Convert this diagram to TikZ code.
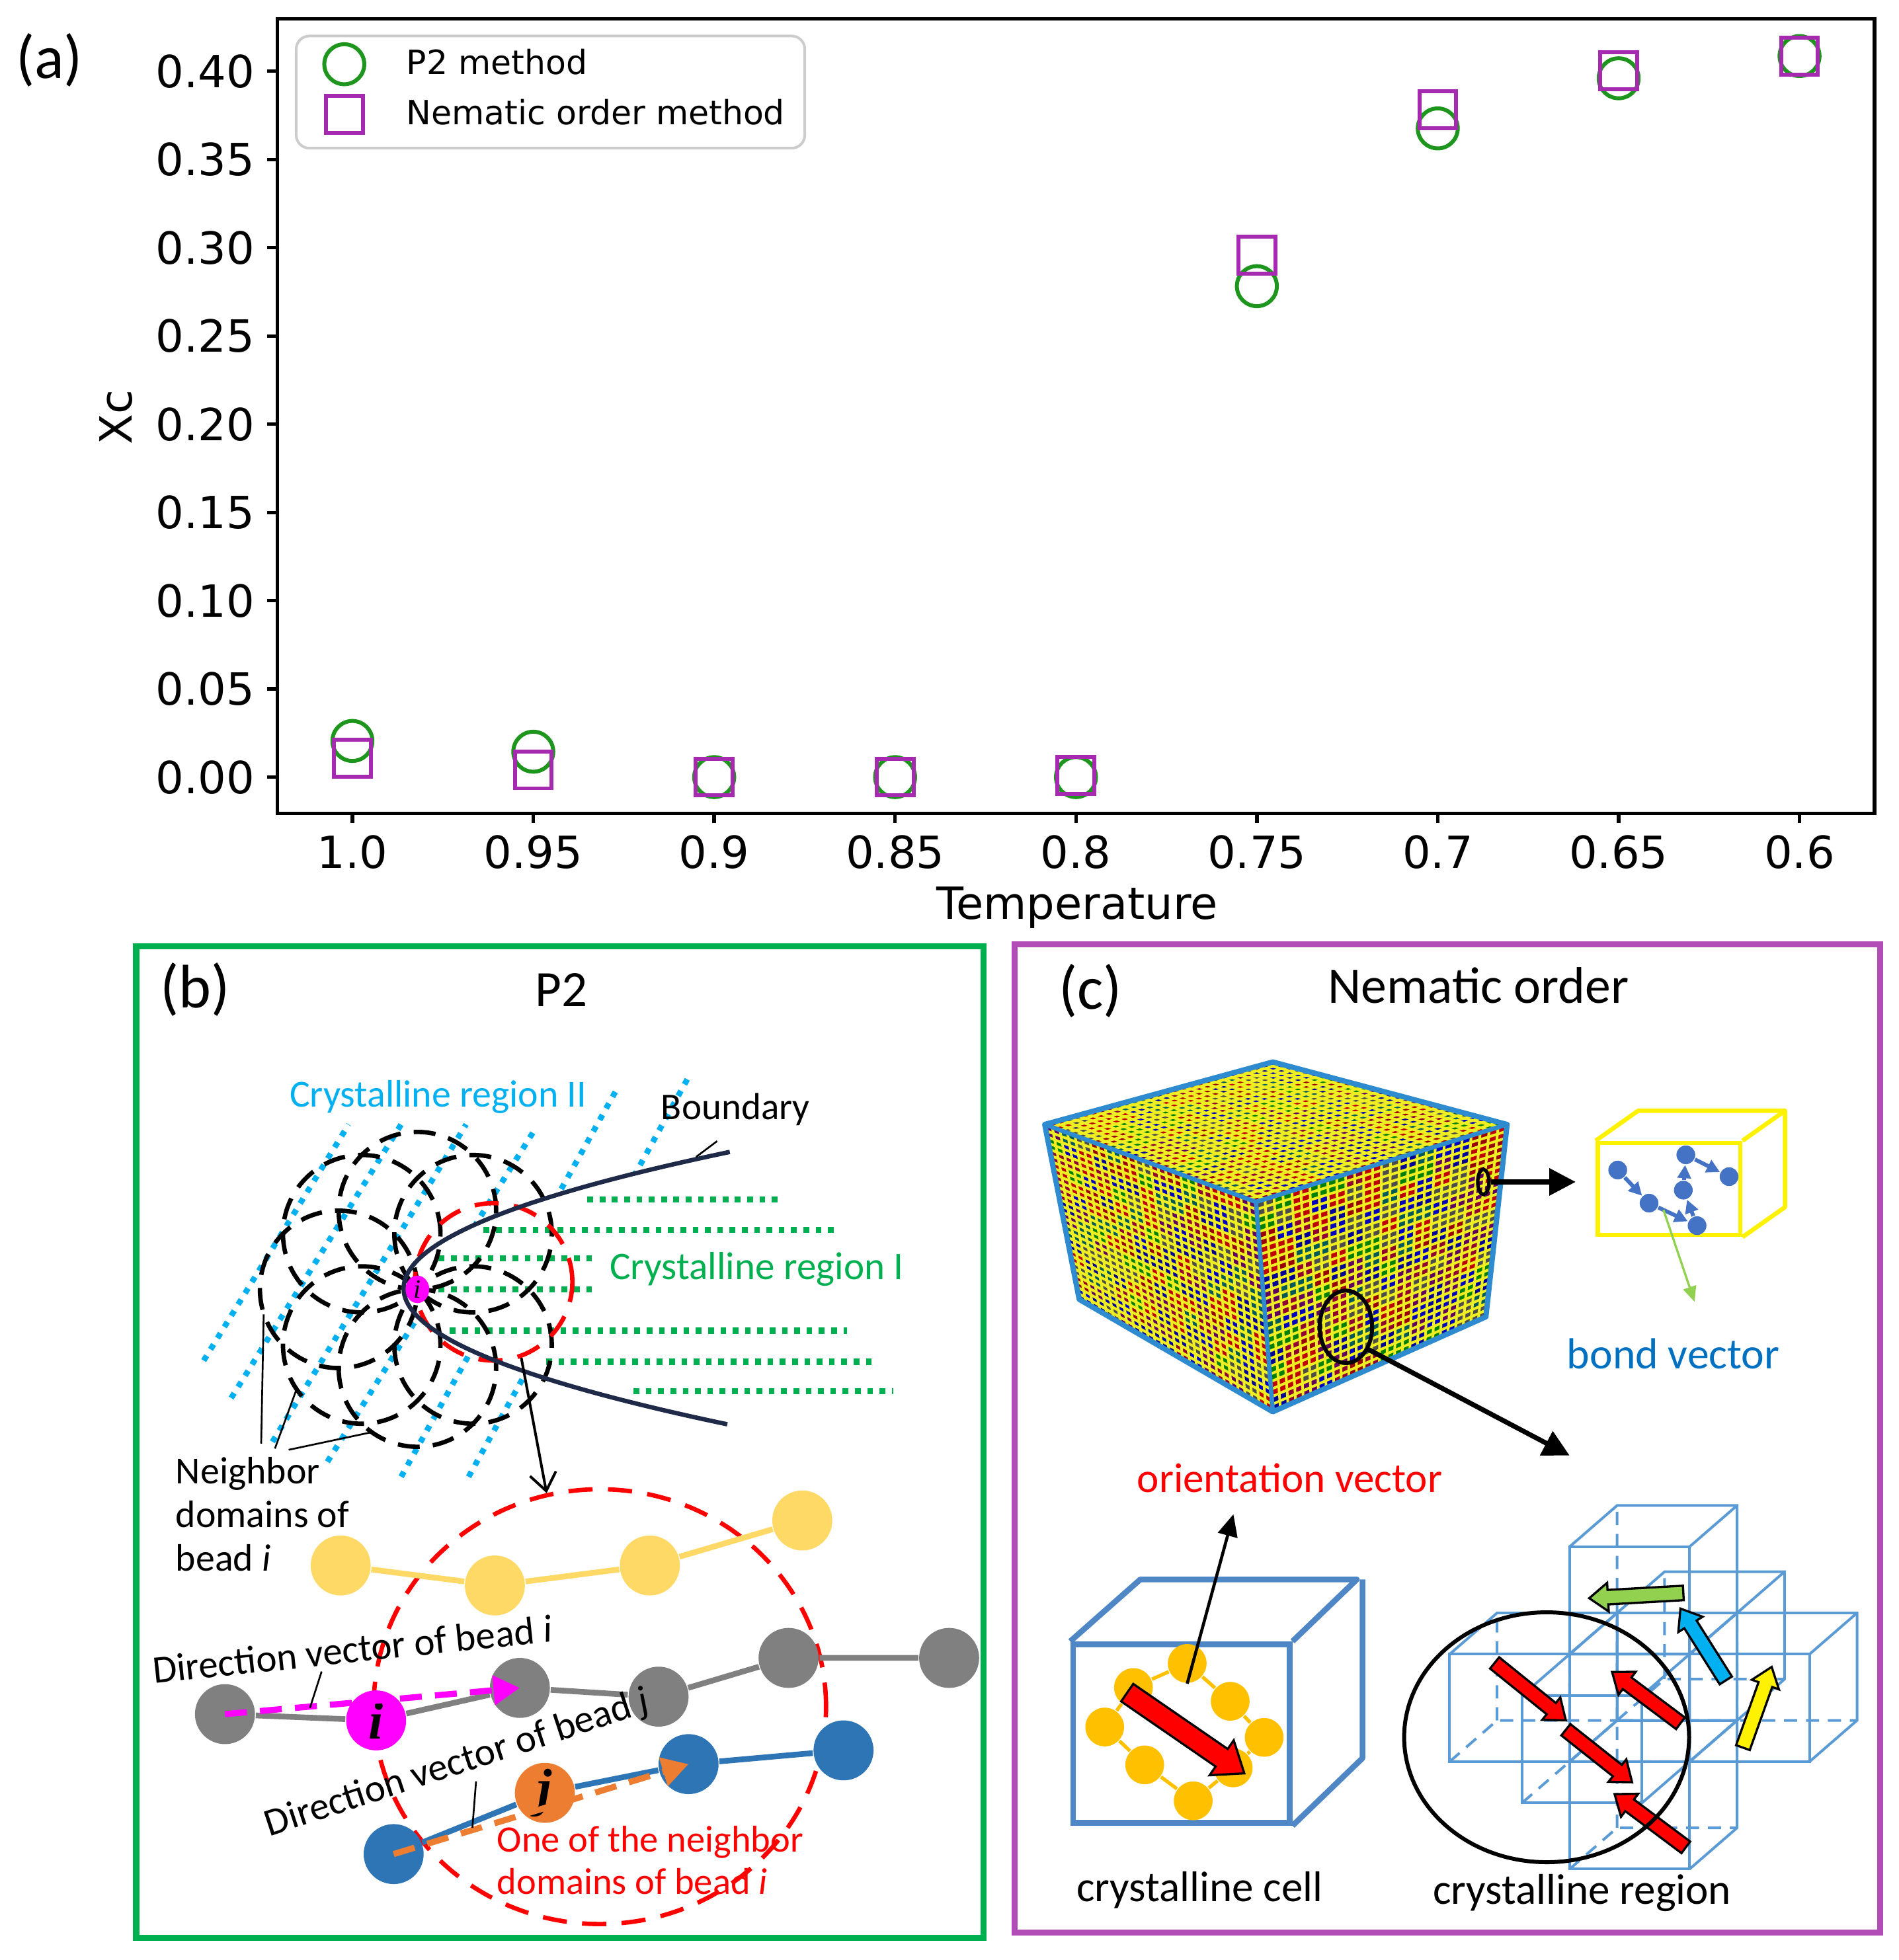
\documentclass[tikz,border=0pt]{standalone}
\usepackage{fontspec}
\setmainfont{Carlito}
\newfontfamily\plotfont{DejaVu Sans}
\newfontfamily\beadfont{Liberation Serif}
\usetikzlibrary{positioning,arrows.meta,calc,shapes.geometric}
\definecolor{ptwo}{HTML}{1E961E}
\definecolor{nem}{HTML}{A62AB0}
\definecolor{boxgreen}{HTML}{00B050}
\definecolor{boxpurple}{HTML}{B24CB6}
\definecolor{cyanreg}{HTML}{00B0F0}
\definecolor{greenreg}{HTML}{00B050}
\definecolor{navy}{HTML}{1F2A48}
\definecolor{beadyellow}{HTML}{FFD966}
\definecolor{beadgray}{HTML}{808080}
\definecolor{beadblue}{HTML}{2E75B6}
\definecolor{beadorange}{HTML}{ED7D31}
\definecolor{beadmag}{HTML}{FF00FF}
\definecolor{cellblue}{HTML}{4F86C6}
\definecolor{regblue}{HTML}{5B9BD5}
\definecolor{goldbead}{HTML}{FFC000}
\definecolor{bondblue}{HTML}{4472C4}
\definecolor{textblue}{HTML}{0070C0}
\definecolor{lightgreen}{HTML}{92D050}
\definecolor{meshyellow}{HTML}{EEEE22}
\definecolor{meshedge}{HTML}{2E8BD0}

\tikzset{
  ptwomark/.style={circle, draw=ptwo, line width=0.9pt, minimum size=0.32cm, inner sep=0},
  nemmark/.style={rectangle, draw=nem, line width=0.9pt, minimum size=0.295cm, inner sep=0},
  ticklbl/.style={font=\plotfont\fontsize{10.1}{12}\selectfont},
  bead/.style={circle, minimum size=0.48cm, inner sep=0},
  nbrdash/.style={black, line width=1pt, dash pattern=on 5pt off 3pt},
  reddash/.style={red, line width=1pt, dash pattern=on 5.5pt off 3.5pt},
  cyandots/.style={cyanreg, line width=1.3pt, dash pattern=on 1.3pt off 1.7pt},
  greendots/.style={greenreg, line width=1.4pt, dash pattern=on 1.3pt off 1.5pt},
  dirvec/.style={line width=1.4pt, dash pattern=on 5pt off 3pt, -{Triangle[length=6pt,width=6.5pt]}},
  leader/.style={black, line width=0.4pt},
  meshline/.style={meshyellow, line width=0.6pt},
  regedge/.style={regblue, line width=0.6pt},
  regdash/.style={regedge, dash pattern=on 3pt off 2pt},
  bigarrow/.style={black, line width=1.1pt, -{Triangle[length=6pt,width=6pt]}},
  chainarrow/.style={bondblue, line width=0.9pt, -{Triangle[length=3pt,width=3pt]}}
}

\pgfmathdeclarerandomlist{cubecols}{{red!75!black}{blue!75!black}{green!50!black}{violet!75!black}{teal!70!black}{black!70}{purple!75!black}{blue!60!black}{red!60!black}}

% fat outlined arrow: start x, start y, end x, end y, colour
\newcommand{\fatarrow}[5]{%
  \pgfmathsetmacro\fatang{atan2((#4)-(#2),(#3)-(#1))}%
  \pgfmathsetmacro\fatlen{veclen((#3)-(#1),(#4)-(#2))}%
  \pgfmathsetmacro\fatneck{\fatlen-\fathead}%
  \filldraw[fill=#5, draw=black, line width=0.5pt, shift={(#1,#2)}, rotate=\fatang]
    (0,\fatw) -- (\fatneck,\fatw) -- (\fatneck,\fatwide) -- (\fatlen,0)
    -- (\fatneck,-\fatwide) -- (\fatneck,-\fatw) -- (0,-\fatw) -- cycle;
}

% coloured mesh on one face of the big box
\newcommand{\meshface}[4]{%
  \foreach \mi in {0,...,13}{
    \foreach \mj in {0,...,13}{
      \pgfmathsetmacro\ua{\mi/14}\pgfmathsetmacro\ub{(\mi+1)/14}
      \pgfmathsetmacro\va{\mj/14}\pgfmathsetmacro\vb{(\mj+1)/14}
      \pgfmathrandomitem{\cellcol}{cubecols}
      \fill[\cellcol] ($($(#1)!\ua!(#2)$)!\va!($(#3)!\ua!(#4)$)$)
        -- ($($(#1)!\ub!(#2)$)!\va!($(#3)!\ub!(#4)$)$)
        -- ($($(#1)!\ub!(#2)$)!\vb!($(#3)!\ub!(#4)$)$)
        -- ($($(#1)!\ua!(#2)$)!\vb!($(#3)!\ua!(#4)$)$) -- cycle;
    }
  }
  \foreach \mk in {0,...,28}{
    \pgfmathsetmacro\mt{\mk/28}
    \draw[meshline] ($(#1)!\mt!(#2)$) -- ($(#3)!\mt!(#4)$);
    \draw[meshline] ($(#1)!\mt!(#3)$) -- ($(#2)!\mt!(#4)$);
  }
}

% one wire cube of the crystalline region: right, up, back
\newcommand{\regcube}[3]{%
  \begin{scope}[shift={({12.56+(#1)*0.96+(#3)*0.38},{-14.10+(#2)*0.86+(#3)*0.33})}]
    \draw[regedge] (0,0) rectangle (0.96,0.86);
    \draw[regedge] (0,0.86) -- ++(0.38,0.33) -- ++(0.96,0) -- ++(0,-0.86) -- (0.96,0);
    \draw[regedge] (0.96,0.86) -- ++(0.38,0.33);
    \draw[regdash] (0,0) -- ++(0.38,0.33) -- ++(0.96,0) (0.38,0.33) -- ++(0,0.86);
  \end{scope}}

\begin{document}
\begin{tikzpicture}
    \useasboundingbox (0,0) rectangle (15.196,-15.688);
    \pgfmathsetseed{42}

    % ---------------- (a) plot ----------------
    \node[font=\fontsize{14}{14}\selectfont] (tagA) at (0.395,-0.48) {(a)};
    \begin{scope}[shift={(2.82,-6.22)}, x=1.4475cm, y=14.125cm]
        % Axes frame
        \draw[line width=0.8pt] (-0.4145,-0.0205) rectangle (8.4145,0.4297);
        \foreach \v/\lbl in {0/0.00, 0.05/0.05, 0.1/0.10, 0.15/0.15, 0.2/0.20, 0.25/0.25, 0.3/0.30, 0.35/0.35, 0.4/0.40} {
            \draw[line width=0.8pt] (-0.4145,\v) -- ++(-0.08cm,0) node[left, inner sep=0.09cm, ticklbl] {\lbl};
        }
        \foreach \k/\lbl in {0/1.0, 1/0.95, 2/0.9, 3/0.85, 4/0.8, 5/0.75, 6/0.7, 7/0.65, 8/0.6} {
            \draw[line width=0.8pt] (\k,-0.0205) -- ++(0,-0.08cm) node[below, inner sep=0.085cm, ticklbl] {\lbl};
        }
        % P2 method
        \foreach \k/\v [count=\n] in {0/0.0205, 1/0.0144, 2/0, 3/0, 4/0, 5/0.2782, 6/0.3676, 7/0.396, 8/0.4086} {
            \node[ptwomark] (p\n) at (\k,\v) {};
        }
        % Nematic order method
        \foreach \k/\v [count=\n] in {0/0.0106, 1/0.0041, 2/0, 3/0, 4/0.001, 5/0.2958, 6/0.3783, 7/0.4004, 8/0.4086} {
            \node[nemmark] (q\n) at (\k,\v) {};
        }
    \end{scope}
    \node[ticklbl] (xlbl) at (8.62,-7.266) {Temperature};
    \node[ticklbl, rotate=90] (ylbl) at (0.93,-3.34) {Xc};

    % Legend
    \draw[rounded corners=3pt, draw=black!20, fill=white, line width=0.6pt] (2.37,-0.288) rectangle (6.44,-1.186);
    \node[ptwomark] (legp) at (2.755,-0.514) {};
    \node[nemmark] (legq) at (2.755,-0.914) {};
    \node[right, inner sep=0, font=\plotfont\fontsize{7.6}{9}\selectfont] (legpt) at (3.246,-0.496) {P2 method};
    \node[right, inner sep=0, font=\plotfont\fontsize{7.6}{9}\selectfont] (legqt) at (3.246,-0.897) {Nematic order method};

    % ---------------- (b) P2 ----------------
    \draw[boxgreen, line width=1.4pt] (1.09,-7.575) rectangle (7.87,-15.51);
    \node[font=\fontsize{14}{14}\selectfont] (tagB) at (1.56,-7.92) {(b)};
    \node[font=\fontsize{11.6}{12}\selectfont] (ttlB) at (4.49,-7.925) {P2};

    % Crystalline region II lines, kept out of region I
    \begin{scope}[even odd rule]
        \clip (1.1,-7.6) rectangle (7.85,-15.5)
            (5.84,-9.22) .. controls (2.367,-9.947) and (2.36,-10.673) .. (5.82,-11.40)
            -- (7.85,-11.40) -- (7.85,-9.22) -- cycle;
        \foreach \xa/\ya/\xb/\yb in {1.63/-10.89/2.79/-9.00, 1.85/-11.19/3.21/-9.00, 2.18/-11.54/3.73/-9.00,
                                     2.62/-11.70/4.28/-9.04, 3.21/-11.82/4.94/-8.71, 3.75/-11.82/5.51/-8.62} {
            \draw[cyandots] (\xa,\ya) -- (\xb,\yb);
        }
    \end{scope}

    % Crystalline region I lines
    \foreach \xa/\xb/\y in {4.70/6.23/-9.60, 3.87/6.67/-9.845, 3.51/4.74/-10.07, 3.51/4.74/-10.32,
                            3.60/6.78/-10.65, 4.37/7.01/-10.90, 5.07/7.15/-11.135} {
        \draw[greendots] (\xa,\y) -- (\xb,\y);
    }

    % Neighbor domains round bead i
    \coordinate (ic) at (3.34,-10.32);
    \foreach \t in {45,90,...,315} {
        \draw[nbrdash] ($(ic)+(\t:0.63)$) circle[radius=0.63];
    }
    \node[circle, reddash, draw, minimum size=1.26cm, inner sep=0] (rc) at (3.95,-10.26) {};

    % Boundary
    \draw[navy, line width=1pt] (5.84,-9.22) .. controls (2.367,-9.947) and (2.36,-10.673) .. (5.82,-11.40);
    \node[ellipse, fill=beadmag, minimum width=0.19cm, minimum height=0.22cm, inner sep=0, font=\beadfont\itshape\fontsize{6}{6}\selectfont] (ib) at (ic) {i};

    \node[text=cyanreg, font=\fontsize{8.7}{10}\selectfont] (regII) at (3.505,-8.78) {Crystalline region II};
    \node[text=greenreg, font=\fontsize{8.9}{10}\selectfont] (regI) at (6.055,-10.16) {Crystalline region I};
    \node[font=\fontsize{8.6}{10}\selectfont] (bnd) at (5.885,-8.88) {Boundary};
    \coordinate (bndpt) at (5.57,-9.26);
    \draw[leader] (bnd.240) -- (bndpt);

    \node[anchor=west, align=left, inner sep=0, font=\fontsize{8.7}{10}\selectfont] (nbr) at (1.40,-12.12) {Neighbor\\domains of\\bead \textit{i}};
    \coordinate (nb1) at (2.11,-10.52);
    \coordinate (nb2) at (2.38,-11.10);
    \coordinate (nb3) at (2.99,-11.46);
    \draw[leader] ($(nbr.north west)+(0.69,0.1)$) -- (nb1);
    \draw[leader] ($(nbr.north west)+(0.80,0.06)$) -- (nb2);
    \draw[leader] ($(nbr.north west)+(0.91,0.05)$) -- (nb3);

    % Zoomed neighbor domain
    \node[ellipse, reddash, draw, minimum width=3.62cm, minimum height=3.48cm, inner sep=0] (bigc) at (4.80,-13.66) {};
    \draw[leader, line width=0.6pt, -{Straight Barb[length=4pt,width=6pt]}] (rc.290) -- (bigc.104);

    % Chains
    \foreach \n/\x/\y in {y1/2.726/-12.53, y2/3.96/-12.69, y3/5.20/-12.53, y4/6.42/-12.17} {
        \node[bead, fill=beadyellow] (\n) at (\x,\y) {};
    }
    \draw[beadyellow, line width=1.3pt] (y1) -- (y2) -- (y3) -- (y4);

    \foreach \n/\x/\y in {g1/1.80/-13.72, g3/4.16/-13.51, g4/5.27/-13.58, g5/6.31/-13.27, g6/7.595/-13.27} {
        \node[bead, fill=beadgray] (\n) at (\x,\y) {};
    }
    \node[bead, fill=beadmag, font=\beadfont\bfseries\itshape\fontsize{12}{12}\selectfont] (bi) at (3.01,-13.77) {i};
    \draw[beadgray, line width=1.3pt] (g1) -- (bi) -- (g3) -- (g4) -- (g5) -- (g6);

    \foreach \n/\x/\y in {b1/3.15/-14.84, b3/5.51/-14.12, b4/6.75/-14.01} {
        \node[bead, fill=beadblue] (\n) at (\x,\y) {};
    }
    \node[bead, fill=beadorange, font=\beadfont\bfseries\itshape\fontsize{12}{12}\selectfont] (bj) at (4.36,-14.35) {j};
    \draw[beadblue, line width=1.3pt] (b1) -- (bj) -- (b3) -- (b4);

    % Direction vectors
    \draw[dirvec, beadmag] (g1.center) -- (g3.center);
    \draw[dirvec, beadorange] (b1.center) -- (b3.center);

    \node[rotate=6, inner sep=1pt, font=\fontsize{8.9}{10}\selectfont] (dvi) at (2.82,-13.20) {Direction vector of bead \textit{i}};
    \coordinate (dvifoot) at (2.48,-13.67);
    \draw[leader] ($(dvi.south west)!0.42!(dvi.south east)$) -- (dvifoot);
    \node[rotate=18.2, inner sep=1pt, font=\fontsize{8.9}{10}\selectfont] (dvj) at (3.66,-14.12) {Direction vector of bead \textit{j}};
    \coordinate (dvjfoot) at (3.78,-14.63);
    \draw[leader] ($(dvj.south west)!0.53!(dvj.south east)$) -- (dvjfoot);

    \node[anchor=west, align=left, inner sep=0, text=red, font=\fontsize{8.5}{9.7}\selectfont] (onedom) at (3.97,-14.89) {One of the neighbor\\domains of bead \textit{i}};

    % ---------------- (c) Nematic order ----------------
    \draw[boxpurple, line width=1.4pt] (8.12,-7.56) rectangle (15.045,-15.47);
    \node[font=\fontsize{14}{14}\selectfont] (tagC) at (8.725,-7.93) {(c)};
    \node[font=\fontsize{11.7}{12}\selectfont] (ttlC) at (11.83,-7.89) {Nematic order};

    % Simulation box
    \coordinate (T1) at (8.36,-9.00);
    \coordinate (T2) at (10.185,-8.50);
    \coordinate (T3) at (12.06,-9.00);
    \coordinate (F) at (10.05,-9.62);
    \coordinate (BL) at (8.636,-10.40);
    \coordinate (FB) at (10.185,-11.30);
    \coordinate (BR) at (11.89,-10.54);
    \meshface{T1}{F}{T2}{T3}
    \meshface{T1}{F}{BL}{FB}
    \meshface{F}{T3}{FB}{BR}
    \draw[meshedge, line width=1.2pt, line join=round] (T1) -- (T2) -- (T3) -- (BR) -- (FB) -- (BL) -- cycle;
    \draw[meshedge, line width=1pt] (T1) -- (F) -- (T3) (F) -- (FB);

    \node[ellipse, draw, line width=0.8pt, minimum width=0.09cm, minimum height=0.2cm, inner sep=0] (spot) at (11.87,-9.46) {};
    \node[ellipse, draw, line width=0.9pt, minimum width=0.42cm, minimum height=0.58cm, inner sep=0] (zoomring) at (10.77,-10.62) {};

    % Bond vectors
    \node[rectangle, draw=yellow, line width=1pt, minimum width=1.14cm, minimum height=0.736cm, inner sep=0] (bondbox) at (13.356,-9.516) {};
    \draw[yellow, line width=1pt, line join=round] (bondbox.north west) -- ++(0.34,0.24) -- ($(bondbox.north east)+(0.34,0.24)$)
        -- ($(bondbox.south east)+(0.34,0.24)$) -- (bondbox.south east);
    \draw[yellow, line width=1pt] (bondbox.north east) -- ++(0.34,0.24);
    \foreach \n/\x/\y in {bv1/12.945/-9.365, bv2/13.196/-9.63, bv3/13.58/-9.81, bv4/13.47/-9.526, bv5/13.49/-9.243, bv6/13.836/-9.418} {
        \node[circle, fill=bondblue, minimum size=0.15cm, inner sep=0] (\n) at (\x,\y) {};
    }
    \draw[chainarrow] (bv1) -- (bv2);
    \draw[chainarrow] (bv2) -- (bv3);
    \draw[chainarrow] (bv3) -- (bv4);
    \draw[chainarrow] (bv4) -- (bv5);
    \draw[chainarrow] (bv5) -- (bv6);
    \draw[bigarrow] (spot.east) -- ($(bondbox.west |- spot.east)+(-0.16,0)$);

    \node[text=textblue, font=\fontsize{9.9}{11}\selectfont] (bondlbl) at (13.39,-10.836) {bond vector};
    \coordinate (gtip) at (13.56,-10.42);
    \draw[lightgreen, line width=0.5pt, -{Triangle[length=3.5pt,width=3pt]}] ($(bv2)!0.3!(bv3)$) -- (gtip);

    \coordinate (regtip) at (12.56,-11.65);
    \draw[bigarrow] (zoomring.-45) -- (regtip);

    \node[text=red, font=\fontsize{9.5}{11}\selectfont] (orlbl) at (10.32,-11.83) {orientation vector};

    % Crystalline cell
    \node[rectangle, draw=cellblue, line width=1.3pt, minimum width=1.733cm, minimum height=1.43cm, inner sep=0] (cellfront) at (9.4535,-13.875) {};
    \draw[cellblue, line width=1.3pt, line join=round] (cellfront.north west) -- ++(0.56,0.495) -- ++(1.733,0) -- (cellfront.north east);
    \draw[cellblue, line width=1.3pt, line join=round] ($(cellfront.north east)+(0.56,0.495)$) -- ++(0,-1.43) -- (cellfront.south east);
    \foreach \n/\x/\y in {gb1/9.50/-13.314, gb2/9.844/-13.617, gb3/10.116/-13.906, gb4/9.868/-14.15,
                          gb5/9.548/-14.414, gb6/9.16/-14.126, gb7/8.84/-13.823, gb8/9.07/-13.507} {
        \node[circle, fill=goldbead, minimum size=0.31cm, inner sep=0] (\n) at (\x,\y) {};
    }
    \draw[goldbead, line width=0.8pt] (gb1) -- (gb2) -- (gb3) -- (gb4) -- (gb5) -- (gb6) -- (gb7) -- (gb8) -- (gb1);
    \def\fatw{0.085}\def\fatwide{0.17}\def\fathead{0.22}
    \fatarrow{9.02}{-13.548}{9.957}{-14.194}{red}
    \coordinate (orienttip) at (9.87,-12.12);
    \draw[black, line width=0.7pt, -{Triangle[length=5pt,width=4.5pt]}] (gb1.south) -- (orienttip);

    % Crystalline region
    \foreach \cx/\cy/\cz in {0/0/1, -1/0/0, 0/-1/0, 0/0/0, 1/0/0, 0/1/0, 0/0/-1} {
        \regcube{\cx}{\cy}{\cz}
    }
    \def\fatw{0.058}\def\fatwide{0.115}\def\fathead{0.15}
    \fatarrow{11.96}{-13.31}{12.53}{-13.77}{red}
    \fatarrow{12.53}{-13.845}{13.06}{-14.265}{red}
    \fatarrow{13.447}{-13.793}{12.90}{-13.383}{red}
    \fatarrow{13.49}{-14.786}{12.92}{-14.36}{red}
    \fatarrow{13.47}{-12.75}{12.717}{-12.792}{lightgreen}
    \fatarrow{13.81}{-13.45}{13.447}{-12.875}{cyanreg}
    \fatarrow{13.947}{-13.988}{14.177}{-13.342}{yellow}
    \node[ellipse, draw, line width=0.9pt, minimum width=2.28cm, minimum height=2.0cm, inner sep=0] (regring) at (12.376,-13.905) {};

    \node[font=\fontsize{9.8}{11}\selectfont] (cellsub) at (9.60,-15.13) {crystalline cell};
    \node[font=\fontsize{9.8}{11}\selectfont] (regsub) at (12.66,-15.15) {crystalline region};
\end{tikzpicture}
\end{document}
